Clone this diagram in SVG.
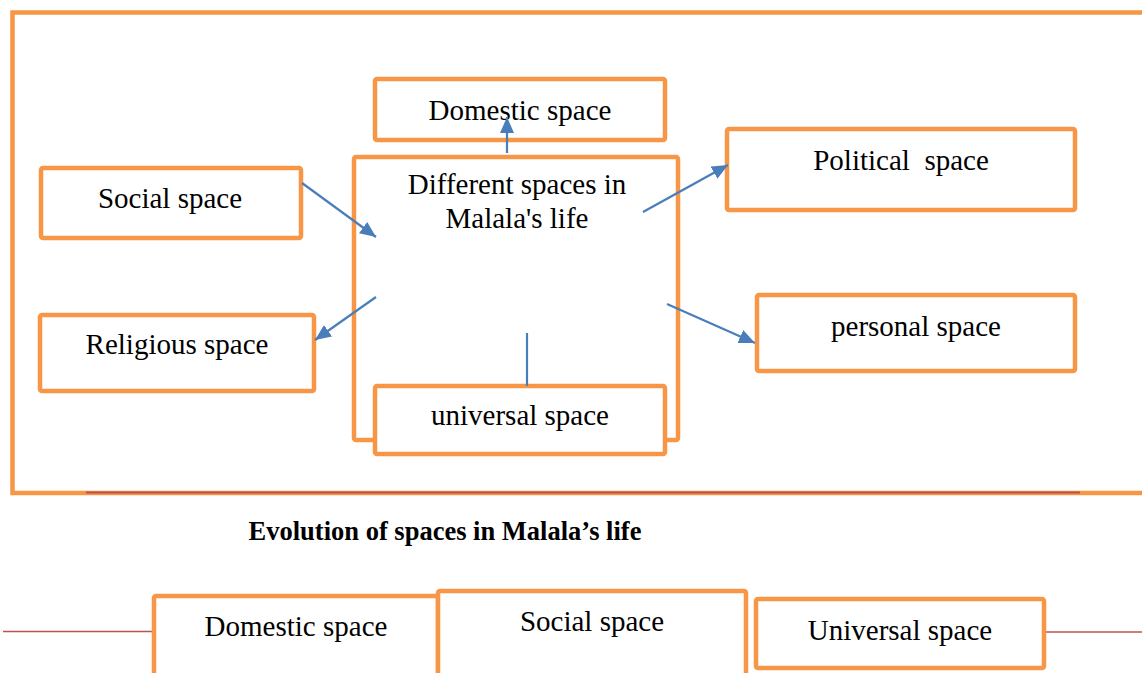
<svg xmlns="http://www.w3.org/2000/svg" width="1142" height="673" viewBox="0 0 1142 673">
<defs>
<style>
.box{fill:#fff;stroke:#F79646;stroke-width:4.5;}
.frame{fill:none;stroke:#F79646;stroke-width:4.5;}
.t{font-family:"Liberation Serif","Times New Roman",serif;font-size:29px;fill:#000;text-anchor:middle;}
.title{font-family:"Liberation Serif","Times New Roman",serif;font-size:26.5px;font-weight:bold;fill:#000;text-anchor:middle;}
.conn{stroke:#4A7EBB;stroke-width:2.2;fill:none;}
.red{stroke:#C0504D;stroke-width:1.5;fill:none;}
</style>
<marker id="ah" markerUnits="userSpaceOnUse" markerWidth="16" markerHeight="14" viewBox="0 0 16 14" refX="16" refY="7" orient="auto">
<path d="M0,0 L16,7 L0,14 z" fill="#4A7EBB"/>
</marker>
</defs>
<rect width="1142" height="673" fill="#fff"/>
<g id="frame">
<path class="frame" d="M1150,12.5 L12.5,12.5 L12.5,493 L1150,493"/>
<line x1="86" y1="492.5" x2="1080" y2="492.5" stroke="#C0504D" stroke-width="2"/>
</g>
<g id="center">
<rect class="box" x="354" y="157" width="324" height="283" rx="2"/>
<text class="t" x="517" y="194">Different spaces in</text>
<text class="t" x="517" y="228">Malala's life</text>
</g>
<g id="domestic">
<rect class="box" x="375" y="79" width="290" height="61" rx="2"/>
<text class="t" x="520" y="120">Domestic space</text>
</g>
<g id="social">
<rect class="box" x="41" y="168" width="260" height="70" rx="2"/>
<text class="t" x="170" y="208">Social space</text>
</g>
<g id="religious">
<rect class="box" x="40" y="315" width="274" height="76" rx="2"/>
<text class="t" x="177" y="354">Religious space</text>
</g>
<g id="political">
<rect class="box" x="727" y="129" width="348" height="81" rx="2"/>
<text class="t" x="901" y="170" xml:space="preserve">Political  space</text>
</g>
<g id="personal">
<rect class="box" x="757" y="295" width="318" height="76" rx="2"/>
<text class="t" x="916" y="336">personal space</text>
</g>
<g id="universal">
<rect class="box" x="375" y="386" width="290" height="68" rx="2"/>
<text class="t" x="520" y="425">universal space</text>
</g>
<g id="connectors">
<line class="conn" x1="507" y1="153" x2="507" y2="117" marker-end="url(#ah)"/>
<line class="conn" x1="302" y1="183" x2="376" y2="237" marker-end="url(#ah)"/>
<line class="conn" x1="376" y1="297" x2="315" y2="340" marker-end="url(#ah)"/>
<line class="conn" x1="643" y1="212" x2="728" y2="165" marker-end="url(#ah)"/>
<line class="conn" x1="667" y1="304" x2="755" y2="343" marker-end="url(#ah)"/>
<line class="conn" x1="527" y1="333" x2="527" y2="386"/>
</g>
<g id="title">
<text class="title" x="445" y="540">Evolution of spaces in Malala’s life</text>
</g>
<g id="timeline">
<line class="red" x1="3" y1="631.5" x2="153" y2="631.5"/>
<line class="red" x1="1045" y1="632" x2="1142" y2="632"/>
</g>
<g id="evo-domestic">
<rect class="box" x="154" y="596" width="284" height="90" rx="2"/>
<text class="t" x="296" y="636">Domestic space</text>
</g>
<g id="evo-social">
<rect class="box" x="438" y="591" width="308" height="95" rx="2"/>
<text class="t" x="592" y="631">Social space</text>
</g>
<g id="evo-universal">
<rect class="box" x="756" y="599" width="288" height="69" rx="2"/>
<text class="t" x="900" y="640">Universal space</text>
</g>
</svg>
